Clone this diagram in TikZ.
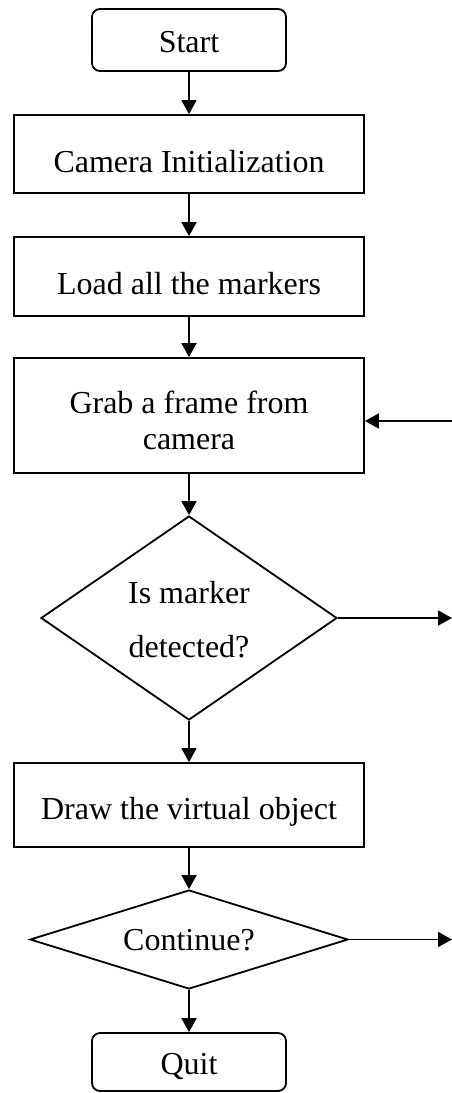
\documentclass[tikz,border=0pt]{standalone}
\usepackage{fontspec}
\setmainfont{Liberation Serif}
\usetikzlibrary{arrows.meta,shapes.geometric}
\begin{document}
\begin{tikzpicture}[x=1pt,y=1pt,
  line width=1.8pt,
  box/.style={draw, rectangle, minimum width=350pt, inner sep=0pt},
  term/.style={draw, rectangle, rounded corners=8pt, minimum width=194pt, inner sep=0pt},
  txt/.style={anchor=base, font=\fontsize{32}{36}\selectfont, inner sep=0pt},
  arr/.style={-{Triangle[length=14pt,width=15pt]}}]
\useasboundingbox (0,0) rectangle (452,-1093);
% shapes
\node[term, minimum height=62pt] (start) at (189,-40) {};
\node[box, minimum height=78pt] (cam) at (189,-154) {};
\node[box, minimum height=79pt] (load) at (189,-276.5) {};
\node[box, minimum height=115pt] (grab) at (189,-415.5) {};
\node[draw, diamond, minimum width=296pt, minimum height=204pt, inner sep=0pt] (det) at (189,-618) {};
\node[box, minimum height=84pt] (drawobj) at (189,-805) {};
\node[draw, diamond, minimum width=318pt, minimum height=99pt, inner sep=0pt] (cont) at (189,-939.5) {};
\node[term, minimum height=58pt] (quit) at (189,-1062) {};
% texts
\node[txt] (tstart) at (189,-52) {Start};
\node[txt] (tcam) at (189,-172) {Camera Initialization};
\node[txt] (tload) at (189,-294) {Load all the markers};
\node[txt] (tgrab1) at (189,-413) {Grab a frame from};
\node[txt] (tgrab2) at (189,-449) {camera};
\node[txt] (tdet1) at (189,-603) {Is marker};
\node[txt] (tdet2) at (189,-657) {detected?};
\node[txt] (tdraw) at (189,-819) {Draw the virtual object};
\node[txt] (tcont) at (189,-950) {Continue?};
\node[txt] (tquit) at (189,-1074) {Quit};
% free ends
\coordinate (inR) at (452,-421);
\coordinate (detR) at (452,-618);
\coordinate (contR) at (452,-939.5);
% connectors
\draw[arr] (start.south) -- (cam.north);
\draw[arr] (cam.south) -- (load.north);
\draw[arr] (load.south) -- (grab.north);
\draw[arr] (grab.south) -- (det.north);
\draw[arr] (det.south) -- (drawobj.north);
\draw[arr] (drawobj.south) -- (cont.north);
\draw[arr] (cont.south) -- (quit.north);
\draw[arr] (inR) -- (grab.east |- inR);
\draw[arr] (det.east) -- (detR);
\draw[arr] (cont.east) -- (contR);
\end{tikzpicture}
\end{document}
